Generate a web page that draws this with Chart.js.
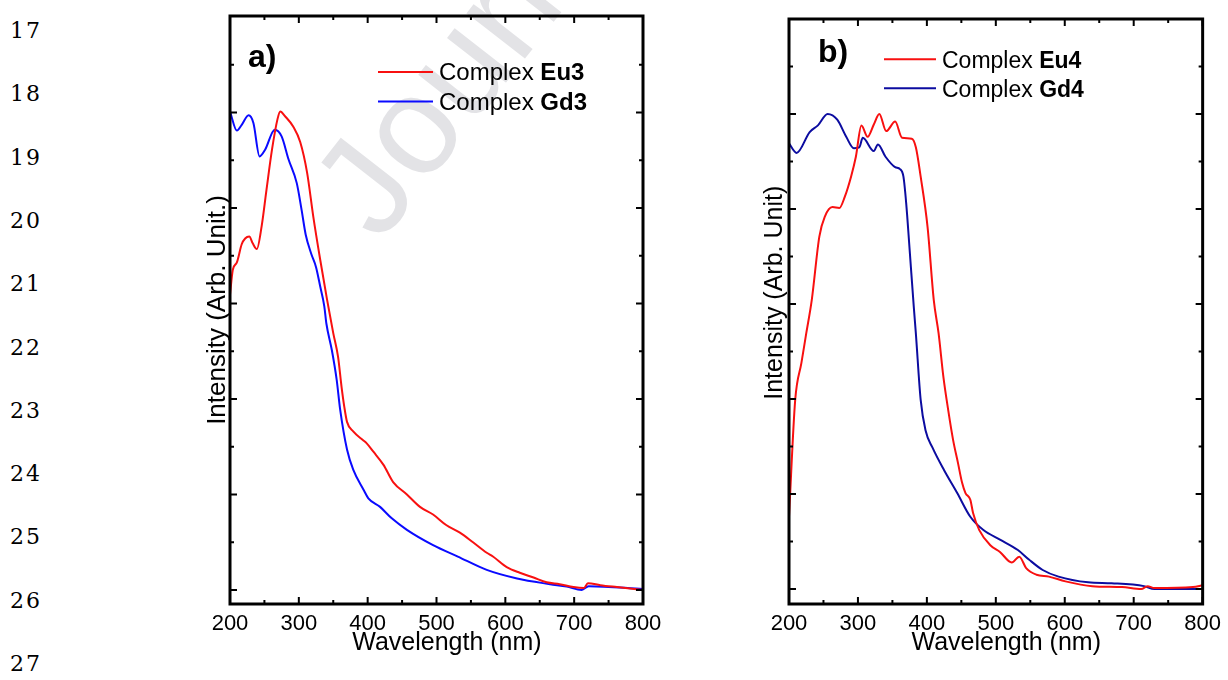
<!DOCTYPE html>
<html>
<head>
<meta charset="utf-8">
<script src="https://cdn.jsdelivr.net/npm/chart.js@4.4.1/dist/chart.umd.min.js"></script>
<style>
  body { margin: 0; background: #fff; width: 1228px; height: 680px; position: relative; overflow: hidden; }
  .ln { position: absolute; left: 10px; font: 22px "DejaVu Serif", serif; letter-spacing: 2px; color: #000; line-height: 24px; }
  #wrapA { position: absolute; left: 190px; top: 0; width: 490px; height: 680px; }
  #wrapB { position: absolute; left: 750px; top: 0; width: 478px; height: 680px; }
</style>
</head>
<body>
<div id="lines"></div>
<div id="wrapA"><canvas id="chartA"></canvas></div>
<div id="wrapB"><canvas id="chartB"></canvas></div>
<script>
// page line numbers on the left
const lineNumbers = [17, 18, 19, 20, 21, 22, 23, 24, 25, 26, 27];

// x ticks, wavelength in nm
const xTicks = [200, 300, 400, 500, 600, 700, 800];

// panel a) Eu3 / Gd3
const eu3X = [200, 204, 210, 217, 222, 228, 233, 239, 246, 253, 261, 269, 273, 280, 292, 302, 312, 321, 331, 341, 350, 357, 362, 366, 370, 379, 393, 398, 408, 423, 437, 457, 476, 495, 514, 534, 553, 573, 582, 602, 621, 641, 660, 679, 699, 714, 720, 738, 762, 800];
const eu3Y = [3.09, 3.35, 3.43, 3.62, 3.68, 3.70, 3.63, 3.57, 3.81, 4.19, 4.61, 4.93, 5.01, 4.96, 4.85, 4.69, 4.37, 3.91, 3.46, 3.04, 2.69, 2.44, 2.13, 1.92, 1.76, 1.66, 1.57, 1.54, 1.45, 1.31, 1.13, 1.00, 0.87, 0.79, 0.68, 0.60, 0.50, 0.39, 0.35, 0.24, 0.18, 0.13, 0.08, 0.06, 0.03, 0.02, 0.07, 0.05, 0.03, 0.0];
const gd3X = [200, 210, 217, 227, 234, 243, 251, 265, 275, 285, 297, 304, 310, 318, 325, 331, 337, 340, 348, 355, 360, 370, 379, 394, 401, 418, 435, 457, 495, 531, 573, 617, 665, 689, 711, 721, 800];
const gd3Y = [5.01, 4.81, 4.87, 4.97, 4.89, 4.54, 4.61, 4.82, 4.75, 4.51, 4.26, 3.98, 3.72, 3.52, 3.38, 3.18, 2.97, 2.79, 2.51, 2.20, 1.89, 1.47, 1.26, 1.05, 0.96, 0.87, 0.75, 0.63, 0.47, 0.35, 0.21, 0.12, 0.06, 0.035, 0.0, 0.04, 0.01];

// panel b) Eu4 / Gd4
const eu4X = [200, 209, 218, 225, 233, 244, 252, 263, 273, 281, 290, 297, 305, 314, 323, 331, 341, 354, 364, 378, 384, 391, 401, 410, 417, 424, 431, 438, 445, 451, 456, 463, 467, 476, 492, 506, 523, 534, 544, 559, 577, 601, 640, 683, 711, 720, 730, 786, 800];
const eu4Y = [0.76, 1.99, 2.38, 2.69, 3.04, 3.71, 3.92, 4.02, 4.01, 4.13, 4.34, 4.55, 4.88, 4.76, 4.89, 5.00, 4.82, 4.92, 4.75, 4.74, 4.65, 4.34, 3.81, 3.04, 2.69, 2.23, 1.88, 1.57, 1.33, 1.12, 1.01, 0.94, 0.80, 0.62, 0.46, 0.39, 0.28, 0.34, 0.22, 0.15, 0.13, 0.08, 0.03, 0.02, 0.0, 0.03, 0.01, 0.02, 0.04];
const gd4X = [200, 211, 230, 242, 256, 270, 283, 294, 302, 307, 323, 329, 340, 354, 361, 366, 370, 375, 381, 384, 391, 398, 408, 425, 444, 463, 482, 506, 532, 548, 568, 591, 634, 668, 715, 730, 800];
const gd4Y = [4.69, 4.59, 4.81, 4.88, 5.00, 4.94, 4.76, 4.64, 4.65, 4.75, 4.61, 4.68, 4.55, 4.44, 4.42, 4.34, 4.06, 3.57, 2.97, 2.69, 1.99, 1.67, 1.49, 1.25, 1.01, 0.76, 0.62, 0.52, 0.41, 0.31, 0.20, 0.13, 0.07, 0.06, 0.03, 0.0, 0.0];

const redColor = "#f81010";
const blueA = "#0a0aff";
const blueB = "#0c0ca0";

const toPts = (xs, ys) => xs.map((x, i) => ({x: x, y: ys[i]}));

lineNumbers.forEach((n, i) => {
  const d = document.createElement('div');
  d.className = 'ln';
  d.style.top = (19 + i * 63.3) + 'px';
  d.textContent = n;
  document.getElementById('lines').appendChild(d);
});

// frame + inward ticks on all four sides
const framePlugin = {
  id: 'frame',
  afterDraw(chart) {
    const {ctx, chartArea: a, scales} = chart;
    ctx.save();
    ctx.strokeStyle = '#000';
    ctx.lineWidth = 2;
    for (let v = 200; v <= 800; v += 50) {
      const px = scales.x.getPixelForValue(v);
      const len = v % 100 === 0 ? 7 : 4;
      ctx.beginPath();
      ctx.moveTo(px, a.bottom); ctx.lineTo(px, a.bottom - len);
      ctx.moveTo(px, a.top); ctx.lineTo(px, a.top + len);
      ctx.stroke();
    }
    for (let v = 0; v <= 5.5; v += 0.5) {
      const py = scales.y.getPixelForValue(v);
      const len = v % 1 === 0 ? 7 : 4;
      ctx.beginPath();
      ctx.moveTo(a.left, py); ctx.lineTo(a.left + len, py);
      ctx.moveTo(a.right, py); ctx.lineTo(a.right - len, py);
      ctx.stroke();
    }
    ctx.lineWidth = 3;
    ctx.strokeRect(a.left, a.top, a.right - a.left, a.bottom - a.top);
    ctx.restore();
  }
};

// legend with bold sample names + panel letter
const legendPlugin = {
  id: 'customLegend',
  afterDraw(chart, args, opts) {
    const ctx = chart.ctx;
    ctx.save();
    ctx.textAlign = 'left';
    ctx.textBaseline = 'alphabetic';
    ctx.font = 'bold 32px "Liberation Sans", Arial, sans-serif';
    ctx.fillStyle = '#000';
    ctx.fillText(opts.letter, opts.letterX, opts.letterY);
    chart.data.datasets.forEach((ds, i) => {
      const y = opts.y + i * opts.gap;
      ctx.strokeStyle = ds.borderColor;
      ctx.lineWidth = 2;
      ctx.beginPath();
      ctx.moveTo(opts.x, y); ctx.lineTo(opts.x + opts.len, y);
      ctx.stroke();
      ctx.fillStyle = '#000';
      ctx.font = opts.size + 'px "Liberation Sans", Arial, sans-serif';
      const tx = opts.x + opts.len + 6;
      ctx.fillText('Complex ', tx, y + 8.3);
      const w = ctx.measureText('Complex ').width;
      ctx.font = 'bold ' + opts.size + 'px "Liberation Sans", Arial, sans-serif';
      ctx.fillText(ds.label, tx + w, y + 8.3);
    });
    ctx.restore();
  }
};

// faint journal watermark behind the curves
const watermarkPlugin = {
  id: 'watermark',
  beforeDatasetsDraw(chart, args, opts) {
    if (!opts.text) return;
    const ctx = chart.ctx;
    ctx.save();
    ctx.textAlign = 'left';
    ctx.textBaseline = 'alphabetic';
    ctx.translate(opts.x, opts.y);
    ctx.rotate(opts.angle * Math.PI / 180);
    ctx.font = opts.size + 'px "Liberation Sans", Arial, sans-serif';
    ctx.fillStyle = '#e3e3e6';
    ctx.fillText(opts.text, 0, 0);
    ctx.restore();
  }
};

function makeChart(id, sets, cfg) {
  return new Chart(document.getElementById(id), {
    type: 'line',
    data: {
      datasets: sets.map(s => ({
        label: s.label,
        data: s.data,
        borderColor: s.color,
        borderWidth: 2,
        pointRadius: 0,
        cubicInterpolationMode: 'monotone',
        fill: false,
      }))
    },
    options: {
      responsive: true,
      maintainAspectRatio: false,
      animation: false,
      layout: { padding: { top: cfg.top, right: cfg.right, left: 0, bottom: 0 } },
      plugins: {
        legend: { display: false },
        tooltip: { enabled: false },
        customLegend: cfg.legend,
        watermark: cfg.watermark || {},
      },
      scales: {
        x: {
          type: 'linear',
          min: 200, max: 800,
          afterBuildTicks: (scale) => { scale.ticks = xTicks.map(v => ({value: v})); },
          afterFit: (scale) => { scale.height = 76; },
          grid: { display: false, drawTicks: false },
          border: { display: false },
          ticks: { color: '#000', padding: 7, maxRotation: 0, font: { family: '"Liberation Sans", Arial, sans-serif', size: 22 } },
          title: { display: true, text: cfg.xTitle, color: '#000', padding: { top: 0, bottom: 22 },
                   font: { family: '"Liberation Sans", Arial, sans-serif', size: 25 } },
        },
        y: {
          min: cfg.ymin, max: cfg.ymax,
          afterFit: (scale) => { scale.width = cfg.yWidth; },
          grid: { display: false, drawTicks: false },
          border: { display: false },
          ticks: { display: false },
          title: { display: true, text: cfg.yTitle, color: '#000', padding: { top: cfg.yTitlePad, bottom: 0 },
                   font: { family: '"Liberation Sans", Arial, sans-serif', size: cfg.yTitleSize } },
        }
      }
    },
    plugins: [watermarkPlugin, framePlugin, legendPlugin]
  });
}

makeChart('chartA', [
  { label: 'Eu3', data: toPts(eu3X, eu3Y), color: redColor },
  { label: 'Gd3', data: toPts(gd3X, gd3Y), color: blueA },
], {
  top: 16, right: 37, yWidth: 40, yTitlePad: 12, yTitleSize: 26, ymin: -0.147, ymax: 6.01,
  xTitle: '   Wavelength (nm)', yTitle: 'Intensity (Arb. Unit.)',
  legend: { x: 188, y: 72, gap: 29.5, len: 55, size: 24, letter: 'a)', letterX: 58, letterY: 67 },
  watermark: { text: 'Journal', x: 190, y: 244, angle: -52, size: 140 },
});

makeChart('chartB', [
  { label: 'Eu4', data: toPts(eu4X, eu4Y), color: redColor },
  { label: 'Gd4', data: toPts(gd4X, gd4Y), color: blueB },
], {
  top: 19, right: 19, yWidth: 39, yTitlePad: 10, yTitleSize: 25, ymin: -0.158, ymax: 6.0,
  xTitle: '   Wavelength (nm)', yTitle: '\u2003\u2002Intensity (Arb. Unit)',
  legend: { x: 134, y: 59.3, gap: 29, len: 52, size: 23, letter: 'b)', letterX: 68, letterY: 62 },
});
</script>
</body>
</html>
